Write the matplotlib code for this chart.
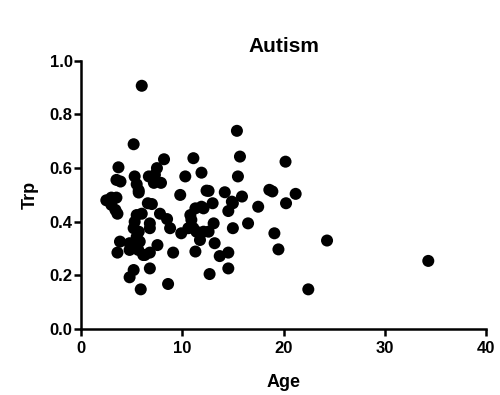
import matplotlib
matplotlib.use('Agg')
import matplotlib.pyplot as plt

plt.rcParams['font.family'] = ['Liberation Sans', 'DejaVu Sans']

age = [6.0, 5.2, 8.2, 11.1, 3.7, 7.5, 11.9, 3.5, 3.9, 5.3,
       5.5, 5.7, 6.7, 7.2, 7.9, 7.3, 10.3, 12.4, 9.8, 2.5,
       3.0, 3.5, 3.0, 3.4, 3.6, 5.7, 7.0, 6.6, 7.8, 8.5,
       8.8, 5.5, 6.0, 5.3, 5.2, 6.8, 6.8, 5.7, 5.5, 3.85,
       4.8, 5.8, 3.6, 4.8, 6.15, 6.8, 7.55, 9.1, 11.3, 5.2,
       4.8, 6.8, 5.9, 8.6, 9.9, 10.6, 10.9, 10.8, 11.3, 11.9,
       11.75, 11.4, 12.7, 15.4, 15.7, 20.2, 15.5, 12.6, 14.2, 18.6,
       18.9, 21.2, 15.9, 17.5, 20.25, 13.0, 15.0, 14.55, 13.1, 12.6,
       15.0, 16.5, 19.1, 24.3, 19.5, 13.2, 13.7, 14.55, 14.55, 22.45,
       34.3, 14.9, 12.1, 5.3, 5.66, 6.3, 11.1, 12.1]
trp = [0.907, 0.689, 0.633, 0.637, 0.603, 0.600, 0.583, 0.556, 0.550, 0.569,
       0.540, 0.517, 0.569, 0.545, 0.545, 0.575, 0.569, 0.516, 0.500, 0.480,
       0.490, 0.490, 0.463, 0.444, 0.430, 0.509, 0.466, 0.469, 0.430, 0.410,
       0.376, 0.425, 0.430, 0.400, 0.376, 0.394, 0.376, 0.363, 0.344, 0.326,
       0.320, 0.326, 0.285, 0.295, 0.276, 0.285, 0.313, 0.285, 0.289, 0.220,
       0.193, 0.226, 0.148, 0.168, 0.357, 0.376, 0.407, 0.425, 0.450, 0.456,
       0.332, 0.363, 0.205, 0.739, 0.643, 0.624, 0.569, 0.515, 0.510, 0.519,
       0.513, 0.504, 0.494, 0.456, 0.469, 0.469, 0.469, 0.440, 0.394, 0.363,
       0.376, 0.394, 0.357, 0.330, 0.297, 0.320, 0.272, 0.285, 0.226, 0.148,
       0.254, 0.475, 0.450, 0.320, 0.295, 0.276, 0.376, 0.363]

x_ticks = [0, 10, 20, 30, 40]
y_ticks = [0.0, 0.2, 0.4, 0.6, 0.8, 1.0]

fig = plt.figure(figsize=(5, 3.95), dpi=100)
ax = fig.add_axes([0.162, 0.167, 0.81, 0.679])

ax.scatter(age, trp, s=75, color='black', edgecolors='none', clip_on=False, zorder=3)

ax.set_xlim(0, 40)
ax.set_ylim(0, 1.0)
ax.set_xticks(x_ticks)
ax.set_yticks(y_ticks)
ax.set_yticklabels([f'{v:.1f}' for v in y_ticks])

for side in ['top', 'right']:
    ax.spines[side].set_visible(False)
for side in ['left', 'bottom']:
    ax.spines[side].set_linewidth(1.8)

ax.tick_params(axis='both', direction='out', length=5, width=1.8, labelsize=12)
ax.tick_params(axis='y', pad=1)
for lab in ax.get_xticklabels() + ax.get_yticklabels():
    lab.set_fontweight('bold')

ax.set_xlabel('Age', fontsize=13, fontweight='bold', labelpad=13)
ax.set_ylabel('Trp', fontsize=13, fontweight='bold', labelpad=8)
ax.set_title('Autism', fontsize=15, fontweight='bold', pad=6)

fig.savefig('out.png', dpi=100, facecolor='white')
